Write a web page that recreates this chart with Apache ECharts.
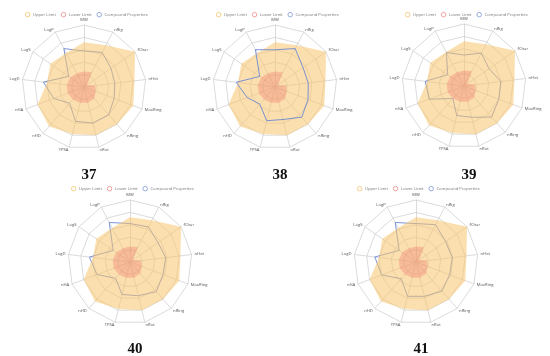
<!DOCTYPE html>
<html><head><meta charset="utf-8">
<script src="https://cdn.jsdelivr.net/npm/echarts@6/dist/echarts.min.js"></script>
<style>html,body{margin:0;padding:0;background:#fff}#c{width:550px;height:356px}</style>
</head><body><div id="c"></div>
<script>
// Indicators listed counter-clockwise from the top (ECharts radar order)
const indicators = ['MW','LogP','LogS','LogD','nHA','nHD','TPSA','nRot','nRing','MaxRing','nHet','fChar','nRig'];
const upperLimit = [0.72,0.62,0.66,0.60,0.80,0.85,0.78,0.80,0.80,0.85,0.82,1.00,0.76];
const lowerLimit = [0.25,0.25,0.27,0.28,0.28,0.27,0.26,0.26,0.25,0.20,0.18,0.06,0.27];
const compound37 = [0.58,0.70,0.30,0.66,0.52,0.35,0.57,0.60,0.60,0.52,0.50,0.53,0.63];
const compound38 = [0.60,0.68,0.30,0.63,0.48,0.37,0.56,0.54,0.65,0.57,0.54,0.55,0.70];
const compound39 = [0.50,0.61,0.32,0.63,0.60,0.27,0.49,0.52,0.67,0.60,0.60,0.49,0.60];
const compound40 = [0.62,0.72,0.33,0.66,0.57,0.35,0.54,0.56,0.64,0.57,0.58,0.55,0.64];
const compound41 = [0.62,0.72,0.33,0.67,0.59,0.36,0.57,0.57,0.63,0.58,0.59,0.58,0.68];
const compoundLabels = ['37','38','39','40','41'];
const seriesNames = ['Upper Limit','Lower Limit','Compound Properties'];

const compoundSets = [compound37, compound38, compound39, compound40, compound41];
const centers = [[84,87],[275,87],[464,86],[130,262],[416,262]];
const legendTops = [12,12,12,186,186];
const titleTops = [163,163,163,337,337];
const compoundOnTop = [false,true,false,false,false];
const legendColors = ['#f2c36b','#ee8a8a','#7d97d6'];

const chart = echarts.init(document.getElementById('c'), null, {renderer:'canvas'});
const radar = [], series = [], legend = [], title = [];
compoundSets.forEach((vals, i) => {
  radar.push({
    center: centers[i], radius: 62, startAngle: 90, splitNumber: 5, shape: 'polygon',
    indicator: indicators.map(n => ({name: n, max: 1, min: 0})),
    axisName: {color: '#555', fontSize: 4.2, fontFamily: 'Open Sans'},
    nameGap: 3,
    splitLine: {lineStyle: {color: '#d2d2d2', width: 0.8}},
    axisLine: {lineStyle: {color: '#d2d2d2', width: 0.8}},
    splitArea: {show: false}
  });
  const comp = {
    type: 'radar', radarIndex: i, name: seriesNames[2], symbol: 'none',
    color: '#6b88d4', lineStyle: {color: '#6b88d4', width: 0.9},
    data: [{value: vals, name: seriesNames[2]}], z: compoundOnTop[i] ? 4 : 1
  };
  const up = {
    type: 'radar', radarIndex: i, name: seriesNames[0], symbol: 'none',
    color: '#f7c46c', lineStyle: {width: 0, opacity: 0},
    areaStyle: {color: '#f7c46c', opacity: 0.55},
    data: [{value: upperLimit, name: seriesNames[0]}], z: 2
  };
  const lo = {
    type: 'radar', radarIndex: i, name: seriesNames[1], symbol: 'none',
    color: '#ee6666', lineStyle: {width: 0, opacity: 0},
    areaStyle: {color: '#ee6666', opacity: 0.3},
    data: [{value: lowerLimit, name: seriesNames[1]}], z: 3
  };
  series.push(comp, up, lo);
  legend.push({
    data: seriesNames.map((n, k) => ({
      name: n, icon: 'circle',
      itemStyle: {color: '#fff', borderColor: legendColors[k], borderWidth: 0.8}
    })),
    left: centers[i][0] - 59, top: legendTops[i], padding: 0,
    itemWidth: 4.5, itemHeight: 4.5, itemGap: 5,
    textStyle: {fontSize: 4.2, color: '#777', fontFamily: 'Open Sans', padding: [0, 0, 0, -2]}
  });
  title.push({
    text: compoundLabels[i], left: centers[i][0], top: titleTops[i], textAlign: 'center',
    textStyle: {fontFamily: 'Liberation Serif', fontWeight: 'bold', fontSize: 15, color: '#111'}
  });
});
chart.setOption({animation: false, title, legend, radar, series});
</script></body></html>
